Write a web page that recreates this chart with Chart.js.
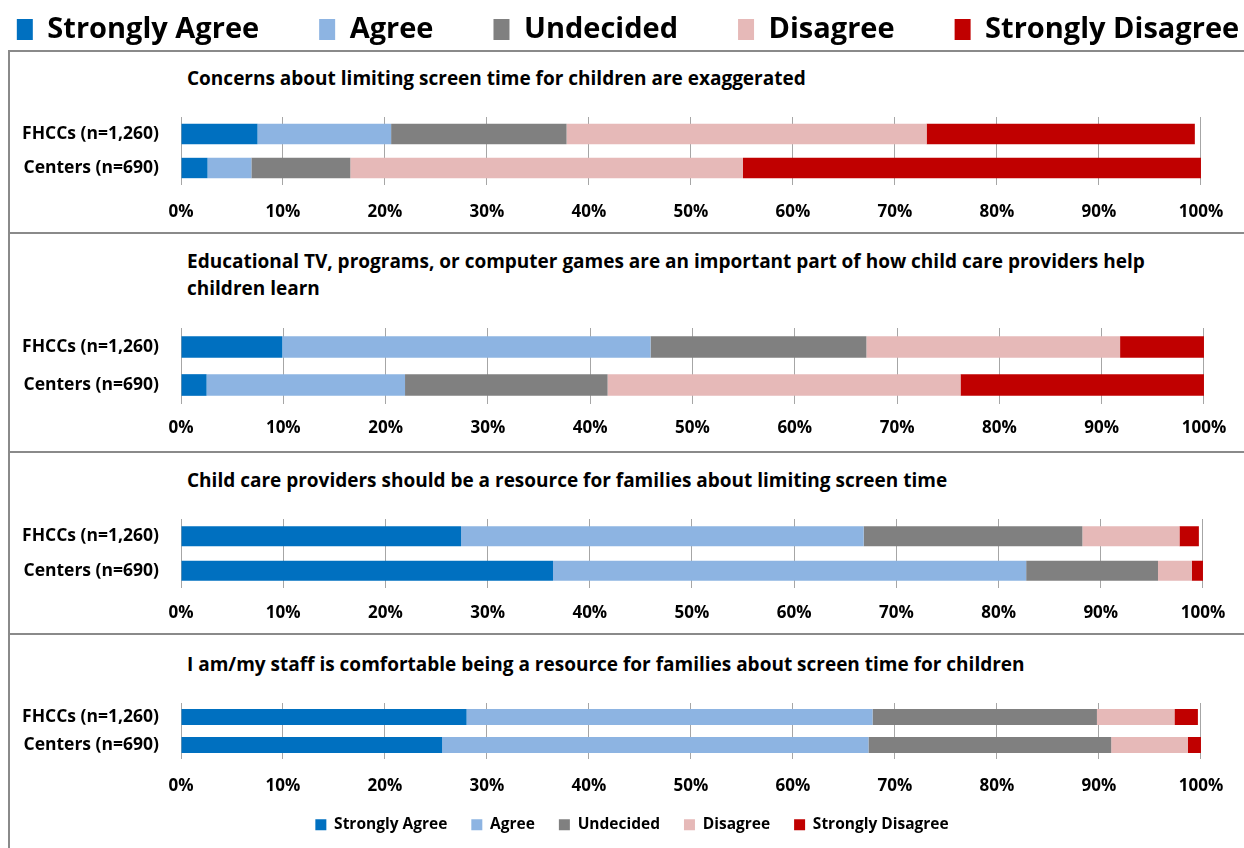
<!DOCTYPE html>
<html>
<head>
<meta charset="utf-8">
<script src="https://cdn.jsdelivr.net/npm/chart.js@4.4.0/dist/chart.umd.min.js"></script>
<style>
  html, body { margin: 0; padding: 0; background: #fff; }
  body { width: 1244px; height: 848px; overflow: hidden; position: relative; font-family: 'Open Sans', sans-serif; }
  canvas { position: absolute; }
  .hline { position: absolute; left: 8px; width: 1240px; height: 2px; background: #8a8a8a; }
  .vline { position: absolute; left: 8px; top: 50px; width: 2px; height: 800px; background: #8a8a8a; }
  .title { position: absolute; left: 187px; font-weight: bold; font-size: 19px; line-height: 27px; color: #000; white-space: nowrap; }
</style>
</head>
<body>
<div class="vline"></div>
<div class="hline" style="top:50px"></div>
<div class="hline" style="top:232px"></div>
<div class="hline" style="top:451px"></div>
<div class="hline" style="top:633px"></div>

<div class="title" style="top:65px">Concerns about limiting screen time for children are exaggerated</div>
<div class="title" style="top:248px">Educational TV, programs, or computer games are an important part of how child care providers help<br>children learn</div>
<div class="title" style="top:467px">Child care providers should be a resource for families about limiting screen time</div>
<div class="title" style="top:651px">I am/my staff is comfortable being a resource for families about screen time for children</div>

<canvas id="legendTop"></canvas>
<canvas id="chart1"></canvas>
<canvas id="chart2"></canvas>
<canvas id="chart3"></canvas>
<canvas id="chart4"></canvas>
<canvas id="legendBottom"></canvas>

<script>
// groups and answers
const groups = ['FHCCs (n=1,260)', 'Centers (n=690)'];
const responses = ['Strongly Agree', 'Agree', 'Undecided', 'Disagree', 'Strongly Disagree'];
const xTicks = [0, 10, 20, 30, 40, 50, 60, 70, 80, 90, 100];

// percent per answer
const q1Fhcc = [7.5, 13.1, 17.2, 35.3, 26.3];
const q1Centers = [2.6, 4.3, 9.7, 38.5, 44.9];
const q2Fhcc = [9.9, 36.0, 21.1, 24.8, 8.2];
const q2Centers = [2.5, 19.4, 19.8, 34.5, 23.8];
const q3Fhcc = [27.4, 39.4, 21.4, 9.5, 1.9];
const q3Centers = [36.4, 46.3, 12.9, 3.3, 1.1];
const q4Fhcc = [28.0, 39.8, 22.0, 7.6, 2.3];
const q4Centers = [25.6, 41.8, 23.8, 7.5, 1.3];

const colors = ['#0070C0', '#8DB4E2', '#808080', '#E6B9B8', '#C00000'];

// where each panel's plot sits on the page
const panels = [
  { id: 'chart1', fhcc: q1Fhcc, centers: q1Centers, canvasTop: 100, areaTop: 117, areaBottom: 185, labelGap: 27, bar: 0.6 },
  { id: 'chart2', fhcc: q2Fhcc, centers: q2Centers, canvasTop: 310, areaTop: 328, areaBottom: 404, labelGap: 24, bar: 0.57 },
  { id: 'chart3', fhcc: q3Fhcc, centers: q3Centers, canvasTop: 500, areaTop: 519, areaBottom: 588, labelGap: 25, bar: 0.58 },
  { id: 'chart4', fhcc: q4Fhcc, centers: q4Centers, canvasTop: 690, areaTop: 703, areaBottom: 759, labelGap: 27, bar: 0.57 },
];

Chart.defaults.font.family = "'Open Sans', sans-serif";
Chart.defaults.color = '#000';
Chart.defaults.animation = false;

const tickSize = 17;
const tickLine = tickSize * 1.2;

panels.forEach(p => {
  const pad = p.labelGap - tickLine / 2;
  const axisH = 2 * pad + tickLine;
  const canvas = document.getElementById(p.id);
  canvas.width = 1230;
  canvas.height = Math.round(p.areaBottom + axisH - p.canvasTop);
  canvas.style.left = '10px';
  canvas.style.top = p.canvasTop + 'px';

  new Chart(canvas, {
    type: 'bar',
    data: {
      labels: groups,
      datasets: responses.map((r, i) => ({
        label: r,
        data: [p.fhcc[i], p.centers[i]],
        backgroundColor: colors[i],
        borderWidth: 0,
        barPercentage: p.bar,
        categoryPercentage: 1
      }))
    },
    options: {
      indexAxis: 'y',
      responsive: false,
      layout: { padding: { top: p.areaTop - p.canvasTop, right: 35, bottom: 0, left: 0 } },
      plugins: { legend: { display: false }, tooltip: { enabled: false } },
      scales: {
        x: {
          stacked: true,
          min: 0,
          max: 100,
          afterBuildTicks: (scale) => { scale.ticks = xTicks.map(v => ({ value: v })); },
          ticks: {
            callback: v => v + '%',
            font: { size: tickSize, weight: 'bold' },
            padding: pad,
            maxRotation: 0
          },
          grid: { color: '#a6a6a6', drawTicks: false },
          border: { display: false }
        },
        y: {
          stacked: true,
          afterFit: (scale) => {
            scale.width = 171;
            scale.paddingTop = 0;
            scale.paddingBottom = 0;
          },
          ticks: { font: { size: 17.5, weight: 'bold' }, padding: 14, autoSkip: false },
          grid: { display: false },
          border: { display: false }
        }
      }
    }
  });
});

// legends drawn by charts with no visible plot
function legendChart(id, opts) {
  const canvas = document.getElementById(id);
  canvas.width = opts.width;
  canvas.height = opts.height;
  canvas.style.left = opts.left + 'px';
  canvas.style.top = opts.top + 'px';
  new Chart(canvas, {
    type: 'bar',
    data: {
      labels: [],
      datasets: responses.map((r, i) => ({ label: r, data: [], backgroundColor: colors[i], borderWidth: 0 }))
    },
    options: {
      responsive: false,
      events: [],
      scales: { x: { display: false }, y: { display: false } },
      plugins: {
        tooltip: { enabled: false },
        legend: {
          position: 'top',
          labels: {
            font: { size: opts.font, weight: 'bold' },
            boxWidth: opts.boxW,
            boxHeight: opts.boxH,
            padding: opts.padding,
            color: '#000'
          }
        }
      }
    }
  });
}

legendChart('legendTop', { width: 1600, height: 240, left: -172, top: 29 - 14 - 60, font: 29, boxW: 16, boxH: 21, padding: 60 });
legendChart('legendBottom', { width: 1264, height: 120, left: 0, top: 825 - 8 - 24, font: 15.5, boxW: 11, boxH: 11, padding: 24 });
</script>
</body>
</html>
